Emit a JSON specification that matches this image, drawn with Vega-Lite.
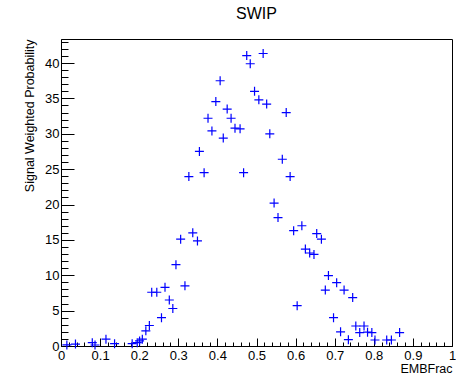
{
  "$schema": "https://vega.github.io/schema/vega-lite/v6.json",
  "width": 391,
  "height": 307,
  "autosize": {"type": "none"},
  "padding": {"left": 61, "top": 39, "right": 4, "bottom": 31},
  "background": "white",
  "config": {
    "view": {"stroke": "black", "strokeWidth": 1},
    "font": "Liberation Sans",
    "axis": {"grid": false, "domainColor": "black", "tickColor": "black", "labelColor": "black", "titleColor": "black", "labelFont": "Liberation Sans", "titleFont": "Liberation Sans", "titleFontWeight": "normal", "labelFontSize": 13, "titleFontSize": 12.5, "labelFlush": false, "labelOverlap": false}
  },
  "title": {"text": "SWIP", "fontSize": 16, "font": "Liberation Sans", "fontWeight": "normal", "color": "black", "anchor": "middle", "baseline": "alphabetic", "offset": 4},
  "data": {"values": [
    {"x": 0.015, "y": 0.15}, {"x": 0.037, "y": 0.27}, {"x": 0.08, "y": 0.47}, {"x": 0.087, "y": 0.14},
    {"x": 0.115, "y": 0.97}, {"x": 0.137, "y": 0.33}, {"x": 0.182, "y": 0.33}, {"x": 0.195, "y": 0.47},
    {"x": 0.201, "y": 0.72}, {"x": 0.208, "y": 0.97}, {"x": 0.217, "y": 2.15}, {"x": 0.226, "y": 2.9},
    {"x": 0.232, "y": 7.6}, {"x": 0.245, "y": 7.6}, {"x": 0.257, "y": 4.0}, {"x": 0.266, "y": 8.3},
    {"x": 0.277, "y": 6.5}, {"x": 0.286, "y": 5.3}, {"x": 0.294, "y": 11.5}, {"x": 0.306, "y": 15.1},
    {"x": 0.317, "y": 8.5}, {"x": 0.327, "y": 23.95}, {"x": 0.337, "y": 16.0}, {"x": 0.349, "y": 14.85},
    {"x": 0.354, "y": 27.5}, {"x": 0.366, "y": 24.5}, {"x": 0.376, "y": 32.2}, {"x": 0.386, "y": 30.4},
    {"x": 0.396, "y": 34.55}, {"x": 0.407, "y": 37.5}, {"x": 0.415, "y": 29.4}, {"x": 0.425, "y": 33.5},
    {"x": 0.435, "y": 32.2}, {"x": 0.445, "y": 30.8}, {"x": 0.458, "y": 30.7}, {"x": 0.467, "y": 24.5},
    {"x": 0.475, "y": 41.06}, {"x": 0.484, "y": 39.9}, {"x": 0.495, "y": 36.0}, {"x": 0.506, "y": 34.8},
    {"x": 0.517, "y": 41.35}, {"x": 0.526, "y": 34.2}, {"x": 0.534, "y": 30.0}, {"x": 0.545, "y": 20.2},
    {"x": 0.555, "y": 18.15}, {"x": 0.566, "y": 26.4}, {"x": 0.576, "y": 33.0}, {"x": 0.586, "y": 23.95},
    {"x": 0.595, "y": 16.3}, {"x": 0.604, "y": 5.7}, {"x": 0.616, "y": 17.0}, {"x": 0.625, "y": 13.7},
    {"x": 0.636, "y": 13.15}, {"x": 0.647, "y": 12.95}, {"x": 0.654, "y": 15.9}, {"x": 0.666, "y": 15.1},
    {"x": 0.676, "y": 7.9}, {"x": 0.684, "y": 9.95}, {"x": 0.697, "y": 4.0}, {"x": 0.705, "y": 8.95},
    {"x": 0.715, "y": 2.0}, {"x": 0.724, "y": 7.9}, {"x": 0.735, "y": 0.9}, {"x": 0.746, "y": 6.85},
    {"x": 0.754, "y": 2.83}, {"x": 0.764, "y": 1.9}, {"x": 0.775, "y": 2.83}, {"x": 0.784, "y": 1.95},
    {"x": 0.795, "y": 1.9}, {"x": 0.803, "y": 0.85}, {"x": 0.833, "y": 0.85}, {"x": 0.845, "y": 0.85},
    {"x": 0.866, "y": 1.9}
  ]},
  "layer": [
    {
      "mark": {"type": "point", "shape": "M-1,0L1,0M0,-1L0,1", "filled": false, "stroke": "#0000ff", "strokeWidth": 1.2, "size": 81, "opacity": 1},
      "encoding": {
        "x": {"field": "x", "type": "quantitative", "scale": {"domain": [0, 1], "nice": false, "zero": false},
          "axis": {"orient": "bottom", "values": [0, 0.1, 0.2, 0.3, 0.4, 0.5, 0.6, 0.7, 0.8, 0.9, 1], "format": "~g", "tickSize": -8, "labelPadding": 11, "title": "EMBFrac", "titleAnchor": "end", "titleAlign": "right", "titlePadding": 0}},
        "y": {"field": "y", "type": "quantitative", "scale": {"domain": [0, 43.4], "nice": false, "zero": false},
          "axis": {"orient": "left", "values": [0, 5, 10, 15, 20, 25, 30, 35, 40], "format": "~g", "tickSize": -13, "labelPadding": 15, "title": "Signal Weighted Probability", "titleAnchor": "end", "titlePadding": 8}}
      }
    },
    {
      "mark": {"type": "point", "opacity": 0},
      "encoding": {
        "x": {"field": "x", "type": "quantitative", "scale": {"domain": [0, 1], "nice": false, "zero": false},
          "axis": {"orient": "bottom", "values": [0.02, 0.04, 0.06, 0.08, 0.12, 0.14, 0.16, 0.18, 0.22, 0.24, 0.26, 0.28, 0.32, 0.34, 0.36, 0.38, 0.42, 0.44, 0.46, 0.48, 0.52, 0.54, 0.56, 0.58, 0.62, 0.64, 0.66, 0.68, 0.72, 0.74, 0.76, 0.78, 0.82, 0.84, 0.86, 0.88, 0.92, 0.94, 0.96, 0.98], "tickSize": -4, "labels": false, "domain": false, "title": null}},
        "y": {"field": "y", "type": "quantitative", "scale": {"domain": [0, 43.4], "nice": false, "zero": false},
          "axis": {"orient": "left", "values": [1, 2, 3, 4, 6, 7, 8, 9, 11, 12, 13, 14, 16, 17, 18, 19, 21, 22, 23, 24, 26, 27, 28, 29, 31, 32, 33, 34, 36, 37, 38, 39, 41, 42, 43], "tickSize": -7, "labels": false, "domain": false, "title": null}}
      }
    }
  ],
  "resolve": {"axis": {"x": "independent", "y": "independent"}}
}
